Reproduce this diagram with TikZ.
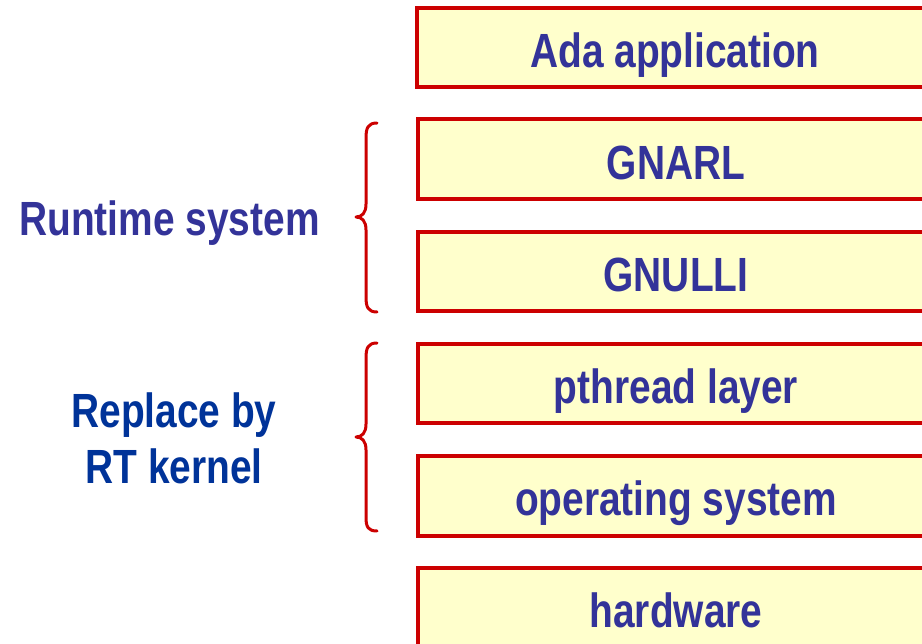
\documentclass[tikz,border=0pt]{standalone}
\usepackage{fontspec}
\newfontfamily\layerfont{Liberation Sans}[FakeStretch=0.81]
\definecolor{boxred}{RGB}{204,0,0}
\definecolor{boxfill}{RGB}{255,255,204}
\definecolor{textblue}{RGB}{51,51,153}
\definecolor{notebl}{RGB}{0,51,153}
\begin{document}
\begin{tikzpicture}[x=1pt,y=-1pt,
  layer/.style={draw=boxred, fill=boxfill, line width=4pt,
    minimum width=516pt, minimum height=79.5pt, inner sep=0pt,
    text height=39.6pt, text depth=0pt, text=textblue,
    font=\layerfont\bfseries\fontsize{48}{56}\selectfont},
  sidelabel/.style={inner sep=0pt, align=center,
    font=\layerfont\bfseries\fontsize{48}{56}\selectfont},
  bracket/.style={draw=boxred, line width=3pt, line cap=round, line join=round}]
\clip (0,0) rectangle (922,644);
\fill[white] (0,0) rectangle (922,644);

% software/hardware layers, top to bottom
\node[layer] (ada)  at (675,47.5)   {Ada application};
\node[layer] (gnarl) at (676,159.25) {GNARL};
\node[layer] (gnulli) at (676,271.7) {GNULLI};
\node[layer] (pth)  at (676,383.5)  {pthread layer};
\node[layer] (os)   at (676,495.85) {operating system};
\node[layer] (hw)   at (676,607.75) {hardware};

% curly brackets grouping the layers
\draw[bracket] (377,123) .. controls (368,123) and (366,128) .. (366,138)
  -- (366,204) .. controls (366,213) and (362,217) .. (356,217)
  .. controls (362,217) and (366,221) .. (366,230)
  -- (366,297) .. controls (366,307) and (368,312) .. (377,312);
\draw[bracket] (377,343) .. controls (368,343) and (366,348) .. (366,358)
  -- (366,424) .. controls (366,433) and (362,437) .. (356,437)
  .. controls (362,437) and (366,441) .. (366,450)
  -- (366,517) .. controls (366,527) and (368,531) .. (377,531);

% group labels (base anchor sits on the last line's baseline)
\node[sidelabel, text=textblue, anchor=base] (rts) at (169.5,236) {Runtime system};
\node[sidelabel, text=notebl, anchor=base] (rtk) at (174,483) {Replace by\\RT kernel};
\end{tikzpicture}
\end{document}
